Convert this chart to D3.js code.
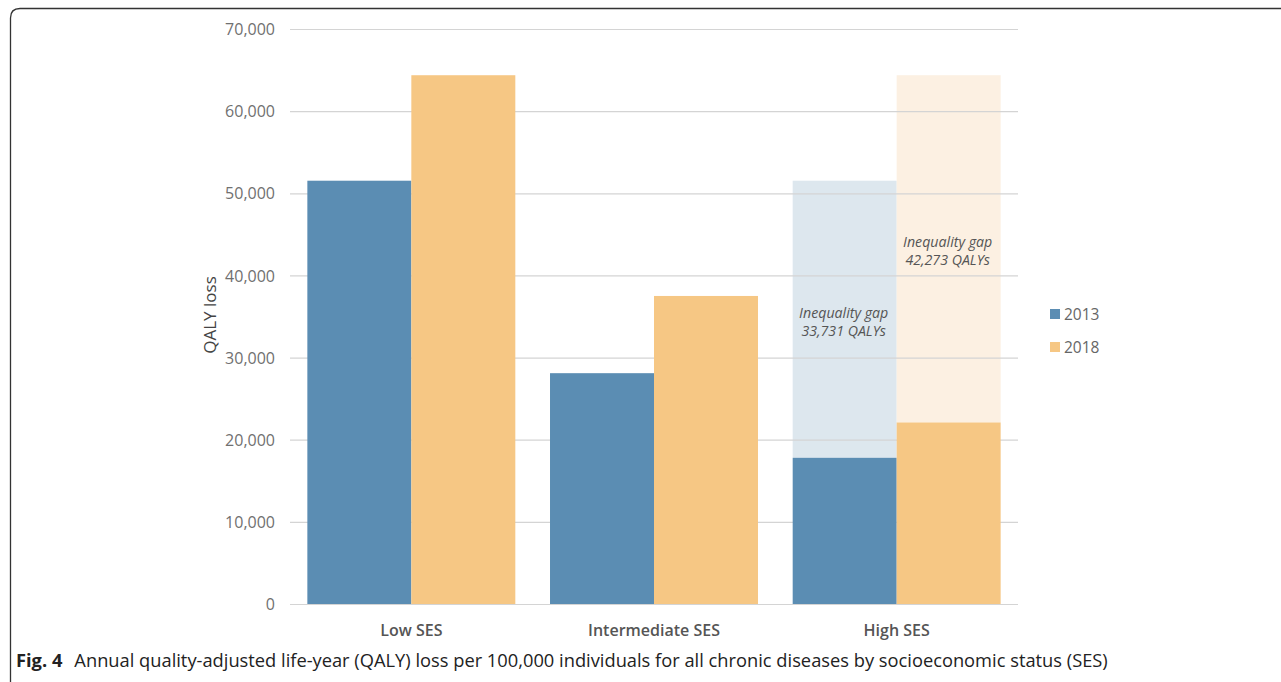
<!DOCTYPE html>
<html>
<head>
<meta charset="utf-8">
<script src="https://cdn.jsdelivr.net/npm/d3@7"></script>
<style>
  html, body { margin: 0; padding: 0; background: #fff; }
  svg { display: block; }
</style>
</head>
<body>
<svg id="chart" width="1281" height="682"></svg>
<script>
// QALY loss per 100,000 individuals by socioeconomic status
const categories = ["Low SES", "Intermediate SES", "High SES"];
const years = ["2013", "2018"];
const values2013 = [51531, 28100, 17800];
const values2018 = [64373, 37500, 22100];
const gapLabels = ["Inequality gap 33,731 QALYs", "Inequality gap 42,273 QALYs"];
const yTicks = [0, 10000, 20000, 30000, 40000, 50000, 60000, 70000];

const colors = { "2013": "#5b8db3", "2018": "#f6c784" };
const shadeColors = { "2013": "#dde7ee", "2018": "#fcf0e2" };

const svg = d3.select("#chart");
const plot = { left: 290, right: 1018, top: 29, bottom: 604 };
const font = "'Open Sans', sans-serif";

const x = d3.scaleBand().domain(categories)
  .range([plot.left, plot.right]).paddingInner(0.143).paddingOuter(0.0715);
const xs = d3.scaleBand().domain(years).range([0, x.bandwidth()]);
const y = d3.scaleLinear().domain([0, 70000]).range([plot.bottom, plot.top]);

// frame
svg.append("path")
  .attr("d", "M10.5,690 L10.5,18 Q10.5,8.5 20,8.5 L1290,8.5")
  .attr("fill", "none").attr("stroke", "#333").attr("stroke-width", 1.3);

const series = years.map((yr, i) => ({ year: yr, values: i === 0 ? values2013 : values2018 }));

// inequality gap shading (High SES up to Low SES)
const hi = categories.length - 1;
svg.append("g").selectAll("rect").data(series).join("rect")
  .attr("x", d => x(categories[hi]) + xs(d.year))
  .attr("width", xs.bandwidth())
  .attr("y", d => y(d.values[0]))
  .attr("height", d => y(d.values[hi]) - y(d.values[0]))
  .attr("fill", d => shadeColors[d.year]);

// gridlines
svg.append("g").selectAll("line").data(yTicks).join("line")
  .attr("x1", plot.left).attr("x2", plot.right)
  .attr("y1", d => y(d) + 0.5).attr("y2", d => y(d) + 0.5)
  .attr("stroke", "#d4d4d4").attr("stroke-width", 1.2);

// bars
const groups = svg.append("g").selectAll("g").data(series).join("g");
groups.selectAll("rect").data(d => d.values.map((v, i) => ({ year: d.year, cat: categories[i], v })))
  .join("rect")
  .attr("x", d => x(d.cat) + xs(d.year))
  .attr("width", xs.bandwidth())
  .attr("y", d => y(d.v))
  .attr("height", d => y(0) - y(d.v))
  .attr("fill", d => colors[d.year]);

// y axis labels
const yAxis = d3.axisLeft(y).tickValues(yTicks).tickSize(0).tickPadding(0)
  .tickFormat(d3.format(","));
const ya = svg.append("g").attr("transform", `translate(275,0)`).call(yAxis);
ya.select(".domain").remove();
ya.selectAll("text").attr("font-family", font)
  .attr("font-size", 16).attr("fill", "#707070").attr("dy", "0.35em");

svg.append("text")
  .attr("transform", "translate(216,315) rotate(-90)")
  .attr("text-anchor", "middle")
  .attr("font-family", font).attr("font-size", 17).attr("fill", "#444")
  .text("QALY loss");

// x axis labels
const xAxis = d3.axisBottom(x).tickSize(0).tickPadding(0);
const xa = svg.append("g").attr("transform", `translate(0,${plot.bottom + 22})`).call(xAxis);
xa.select(".domain").remove();
xa.selectAll("text").attr("font-family", font)
  .attr("font-size", 16).attr("font-weight", 600).attr("fill", "#555").attr("dy", "0.6em");

// gap annotations, placed inside the shaded areas
const annAt = [{ year: "2013", v: 34800 }, { year: "2018", v: 43450 }];
annAt.forEach((a, i) => {
  const parts = gapLabels[i].split(" ");
  const cx = x(categories[hi]) + xs(a.year) + xs.bandwidth() / 2 - 1;
  const t = svg.append("text")
    .attr("text-anchor", "middle")
    .attr("font-family", font).attr("font-size", 14.2)
    .attr("font-style", "italic").attr("fill", "#555");
  t.append("tspan").attr("x", cx).attr("y", y(a.v)).text(parts.slice(0, 2).join(" "));
  t.append("tspan").attr("x", cx).attr("dy", 18).text(parts.slice(2).join(" "));
});

// legend
const legend = svg.append("g").selectAll("g").data(years).join("g")
  .attr("transform", (d, i) => `translate(1050,${314 + i * 33})`);
legend.append("rect").attr("x", 0).attr("y", -5).attr("width", 10).attr("height", 10)
  .attr("fill", d => colors[d]);
legend.append("text").attr("x", 14).attr("dy", "0.36em")
  .attr("font-family", font).attr("font-size", 15.5).attr("fill", "#666")
  .text(d => d);

// caption
const cap = svg.append("text").attr("x", 16).attr("y", 667)
  .attr("font-family", font).attr("font-size", 18.3).attr("fill", "#222");
cap.append("tspan").attr("font-weight", 700).text("Fig. 4");
cap.append("tspan").attr("dx", 12)
  .text("Annual quality-adjusted life-year (QALY) loss per 100,000 individuals for all chronic diseases by socioeconomic status (SES)");
</script>
</body>
</html>
